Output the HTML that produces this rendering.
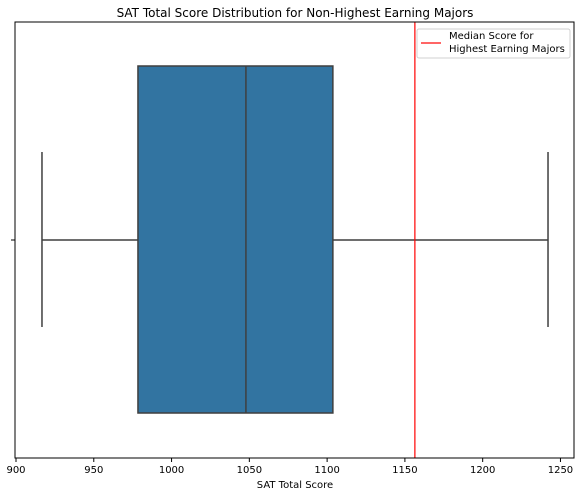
<!DOCTYPE html>
<html><head><meta charset="utf-8"><style>
body{margin:0;background:#fff;font-family:"DejaVu Sans","Liberation Sans",sans-serif;}
</style></head><body>
<svg width="581" height="496" xmlns="http://www.w3.org/2000/svg" font-family="DejaVu Sans, Liberation Sans, sans-serif">
<text x="295" y="17" text-anchor="middle" font-size="12" fill="#000">SAT Total Score Distribution for Non-Highest Earning Majors</text>
<g id="plot"></g>
<text x="295" y="488" text-anchor="middle" font-size="10" fill="#000">SAT Total Score</text>
</svg>
<script>
const ticks=[900,950,1000,1050,1100,1150,1200,1250];
const stats=[916.7,978.4,1047.8,1103.7,1242];
const highMedian=[1156.4];
(function(){
const g=document.getElementById('plot'),NS='http://www.w3.org/2000/svg';
const X=v=>16+(v-900)*1.5556;
const plotTop=22,plotBot=458,plotLeft=15,plotRight=574;
function mk(t,a){const e=document.createElementNS(NS,t);for(const k in a)e.setAttribute(k,a[k]);g.appendChild(e);return e;}
const wl=stats[0],q1=stats[1],med=stats[2],q3=stats[3],wh=stats[4];
let e;
e=mk('line',{x1:X(wl),x2:X(q1),y1:240,y2:240,stroke:'#3f3f3f','stroke-width':1.5});


e=mk('line',{x1:X(q3),x2:X(wh),y1:240,y2:240,stroke:'#3f3f3f','stroke-width':1.5});


e=mk('line',{x1:X(wl),x2:X(wl),y1:152,y2:327,stroke:'#3f3f3f','stroke-width':1.5});


e=mk('line',{x1:X(wh),x2:X(wh),y1:152,y2:327,stroke:'#3f3f3f','stroke-width':1.5});


e=mk('rect',{x:X(q1),y:66,width:X(q3)-X(q1),height:347,fill:'#3274a1',stroke:'#3f3f3f','stroke-width':1.5});


e=mk('line',{x1:X(med),x2:X(med),y1:66,y2:413,stroke:'#3f3f3f','stroke-width':1.5});


e=mk('line',{x1:X(highMedian[0]),x2:X(highMedian[0]),y1:plotTop,y2:plotBot,stroke:'#ff0000','stroke-width':1.5,'stroke-opacity':0.8});


e=mk('rect',{x:plotLeft,y:plotTop,width:plotRight-plotLeft,height:plotBot-plotTop,fill:'none',stroke:'#000','stroke-width':1});


e=mk('line',{x1:11,x2:15,y1:240,y2:240,stroke:'#000','stroke-width':1});


ticks.forEach(t=>{
 let a=mk('line',{x1:X(t),x2:X(t),y1:plotBot,y2:plotBot+4,stroke:'#000','stroke-width':1});
 
 
 let b=mk('text',{x:X(t),y:plotBot+15,'text-anchor':'middle','font-size':10,fill:'#000'});
 b.textContent=t;
 
 
});
e=mk('rect',{x:417,y:29,width:153,height:29,rx:2,fill:'#fff',stroke:'#d0d0d0','stroke-width':1});


e=mk('line',{x1:421,x2:441,y1:43,y2:43,stroke:'#ff0000','stroke-width':1.5,'stroke-opacity':0.8});


e=mk('text',{x:449,y:39,'font-size':10,fill:'#000'});e.textContent='Median Score for';


e=mk('text',{x:449,y:52,'font-size':10,fill:'#000'});e.textContent='Highest Earning Majors';


})();
</script>
</body></html>
